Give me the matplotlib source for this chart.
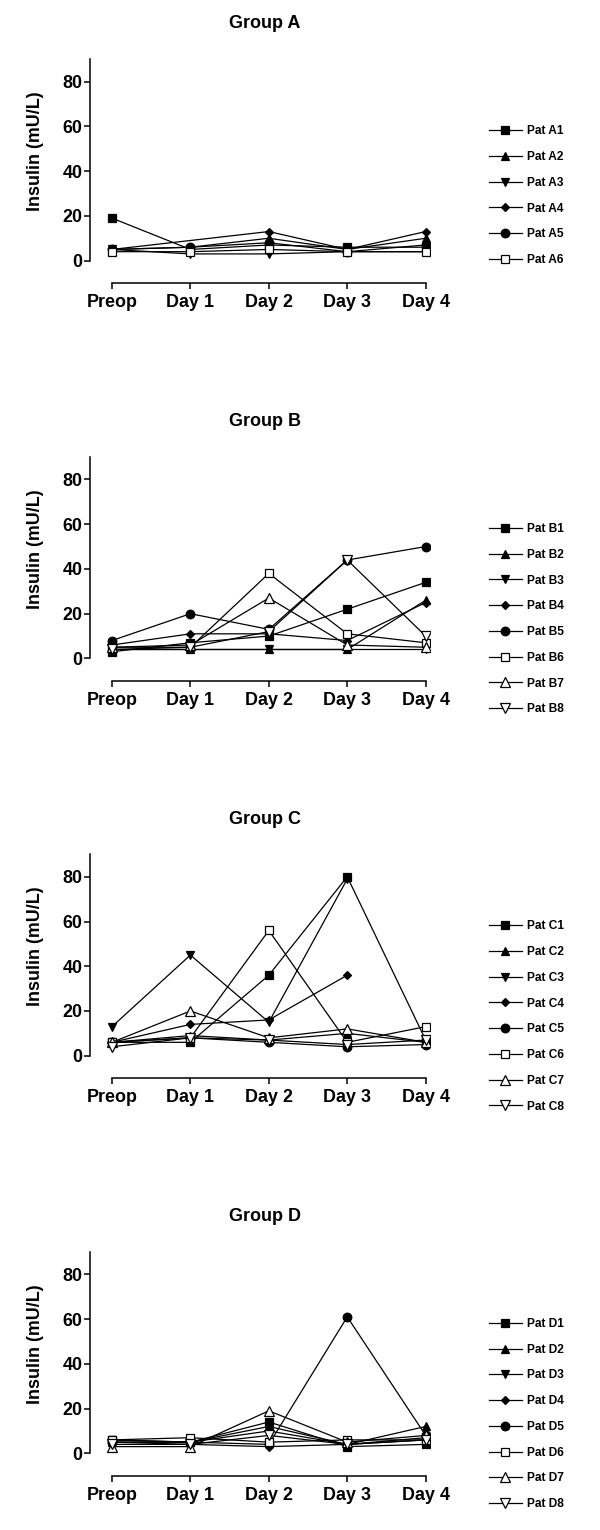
import numpy as np
import matplotlib
matplotlib.use("Agg")
import matplotlib.pyplot as plt

plt.rcParams["font.family"] = ["Liberation Sans", "DejaVu Sans"]
plt.rcParams["font.weight"] = "bold"

days = ["Preop", "Day 1", "Day 2", "Day 3", "Day 4"]
nan = np.nan

# insulin (mU/L) per patient, one row per patient, columns = days
pat_a = [
    [19, 5, 7, 6, 6],
    [5, 6, 10, 5, 10],
    [5, 3, 3, 4, 4],
    [5, nan, 13, 5, 13],
    [5, 6, 8, 4, 7],
    [4, 4, 5, 4, 4],
]
pat_b = [
    [3, 7, 10, 22, 34],
    [4, 4, 4, 4, 26],
    [4, 4, 4, 4, 4],
    [6, 11, 11, 8, 25],
    [8, 20, 13, 44, 50],
    [5, 5, 38, 11, 7],
    [5, 6, 27, 6, 5],
    [4, 5, 12, 44, 10],
]
pat_c = [
    [6, 6, 36, 80, 7],
    [6, 9, 7, 10, 6],
    [13, 45, 15, 79, nan],
    [6, 14, 16, 36, nan],
    [6, 8, 6, 4, 5],
    [6, 8, 56, 6, 13],
    [6, 20, 8, 12, 6],
    [4, 8, 7, 5, 7],
]
pat_d = [
    [6, 5, 14, 3, 4],
    [5, 5, 12, 4, 12],
    [6, 5, 10, 4, 7],
    [5, 4, 3, 4, 6],
    [5, 5, 4, 61, 8],
    [6, 7, 5, 6, 6],
    [3, 3, 19, 5, 8],
    [4, 4, 8, 4, 6],
]
groups = ["A", "B", "C", "D"]
group_data = [pat_a, pat_b, pat_c, pat_d]

markers = ["s", "^", "v", "D", "o", "s", "^", "v"]
msizes = [6, 6, 6, 4.2, 6.2, 6.2, 6.5, 6.5]
filled = [True, True, True, True, True, False, False, False]

W, H = 600, 1530
fig = plt.figure(figsize=(W / 100, H / 100), dpi=100)

ax_left, ax_right = 90, 429.6
ax_h = 223.7
tops = [59.3, 457.1, 854.4, 1252.0]
x = np.arange(len(days))

for g, data, top in zip(groups, group_data, tops):
    ax = fig.add_axes([ax_left / W, 1 - (top + ax_h) / H,
                       (ax_right - ax_left) / W, ax_h / H])
    for i, row in enumerate(data):
        y = np.array(row, dtype=float)
        ok = ~np.isnan(y)
        ax.plot(x[ok], y[ok], color="black", lw=0.9,
                marker=markers[i], ms=msizes[i], mew=0.9, mec="black",
                mfc="black" if filled[i] else "white",
                label=f"Pat {g}{i + 1}")

    ax.set_xlim(-0.28, 4.05)
    ax.set_ylim(-10, 90)
    ax.set_xticks(x)
    ax.set_xticklabels(days)
    ax.set_yticks([0, 20, 40, 60, 80])
    for s in ["top", "right"]:
        ax.spines[s].set_visible(False)
    ax.spines["left"].set_bounds(0, 90)
    ax.spines["bottom"].set_bounds(0, 4)
    for s in ["left", "bottom"]:
        ax.spines[s].set_linewidth(1.1)
    ax.tick_params(axis="both", labelsize=12.9, width=1.1, length=4,
                   direction="out")
    ax.tick_params(axis="y", pad=1.5)
    ax.tick_params(axis="x", pad=4)
    ax.set_ylabel("Insulin (mU/L)", fontsize=12.9, fontweight="bold")
    ax.yaxis.set_label_coords(-0.135, 0.59)
    ax.text(0.515, 1.158, f"Group {g}", transform=ax.transAxes,
            ha="center", va="center", fontsize=13, fontweight="bold")

    leg = ax.legend(loc="upper left",
                    bbox_to_anchor=(489 / W, 1 - (top + 66) / H),
                    bbox_transform=fig.transFigure, frameon=False,
                    fontsize=8.6, handlelength=2.75, handletextpad=0.4,
                    labelspacing=1.15, borderpad=0, borderaxespad=0)
    for t in leg.get_texts():
        t.set_fontweight("bold")

fig.savefig("out.png", dpi=100)
